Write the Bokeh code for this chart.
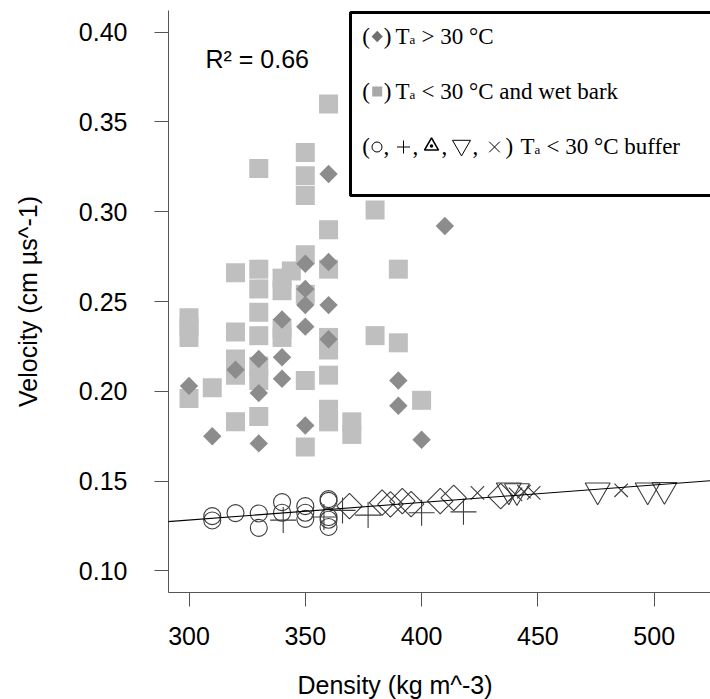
import math
from bokeh.plotting import figure
from bokeh.models import (Range1d, FixedTicker, Label, BoxAnnotation, Slope,
                          NumeralTickFormatter, Title)
from bokeh.embed import file_html
from bokeh.resources import INLINE

# ---------------- data ----------------
# (square) Ta < 30 C and wet bark
wet_x = [300, 300, 300, 300, 310,
         320, 320, 320, 320, 320,
         330, 330, 330, 330, 330, 330, 330, 330,
         340, 340, 340, 340, 344,
         350, 350, 350, 350, 350, 350, 350,
         360, 360, 360, 360, 360, 360, 360, 360,
         370, 370, 380, 380, 390, 390, 400]
wet_y = [0.241, 0.236, 0.230, 0.196, 0.202,
         0.266, 0.233, 0.218, 0.209, 0.183,
         0.324, 0.268, 0.257, 0.244, 0.231, 0.214, 0.206, 0.186,
         0.263, 0.256, 0.235, 0.230, 0.267,
         0.333, 0.320, 0.309, 0.276, 0.254, 0.206, 0.169,
         0.360, 0.290, 0.268, 0.230, 0.223, 0.209, 0.190, 0.183,
         0.183, 0.176, 0.301, 0.231, 0.268, 0.227, 0.195]

# (diamond) Ta > 30 C
hot_x = [300, 310, 320, 330, 330, 330, 340, 340, 340,
         350, 350, 350, 350, 350, 360, 360, 360, 360,
         390, 390, 400, 410]
hot_y = [0.203, 0.175, 0.212, 0.218, 0.199, 0.171, 0.240, 0.219, 0.207,
         0.271, 0.257, 0.248, 0.236, 0.181, 0.321, 0.272, 0.248, 0.229,
         0.206, 0.192, 0.173, 0.292]

# Ta < 30 C buffer
buf_circle_x = [310, 310, 320, 330, 330, 340, 340, 350, 350, 350, 360, 360, 360, 360, 360]
buf_circle_y = [0.1305, 0.1281, 0.1322, 0.1320, 0.1240, 0.1383, 0.1324, 0.1361, 0.1324,
                0.1290, 0.1400, 0.1390, 0.1300, 0.1285, 0.1245]
buf_plus_x = [340.5, 358, 366, 377, 400, 418]
buf_plus_y = [0.1283, 0.1300, 0.1337, 0.1311, 0.1324, 0.1329]
buf_diamond_x = [369, 383, 386.6, 391.7, 395.5, 408, 413.8, 434]
buf_diamond_y = [0.1361, 0.1380, 0.1371, 0.1389, 0.1372, 0.1389, 0.1407, 0.1417]
buf_tri_x = [437.5, 441, 475.7, 497.2, 504.4]
buf_tri_y = [0.1449, 0.1445, 0.1449, 0.1449, 0.1452]
buf_cross_x = [424, 440.4, 444, 448.2, 485.8]
buf_cross_y = [0.1435, 0.1426, 0.1441, 0.1435, 0.1449]

fit_slope = 9.78e-5
fit_intercept = 0.0990
r2_text = "R² = 0.66"

x_ticks = [300, 350, 400, 450, 500]
y_ticks = [0.10, 0.15, 0.20, 0.25, 0.30, 0.35, 0.40]
x_title = "Density (kg m^-3)"
y_title = "Velocity (cm µs^-1)"
legend_tails = ["> 30 °C", "< 30 °C and wet bark", "< 30 °C buffer"]

# ---------------- layout ----------------
W, H = 710, 699
FL, FT, FB = 168, 10, 592          # frame left / top / bottom (px)
PXU = 2.326                         # px per density unit
X0 = 300 - (188.5 - FL) / PXU
X1 = X0 + (W - FL) / PXU
Y0, Y1 = 0.088, 0.412


def sx(px):   # pixel x -> data x
    return X0 + (px - FL) / PXU


def sy(py):   # pixel y -> data y
    return Y1 - (py - FT) * (Y1 - Y0) / (FB - FT)


p = figure(width=W, height=H, x_range=Range1d(X0, X1), y_range=Range1d(Y0, Y1),
           output_backend="svg", toolbar_location=None,
           min_border_left=FL, min_border_top=FT, min_border_right=0,
           min_border_bottom=H - FB)
p.xgrid.visible = False
p.ygrid.visible = False
p.outline_line_color = None
p.background_fill_color = "white"
p.border_fill_color = "white"

# data marks
p.scatter(wet_x, wet_y, marker="square", size=19, fill_color="#bfbfbf", line_color=None)
p.scatter(hot_x, hot_y, marker="square", angle=math.pi / 4, size=13,
          fill_color="#8c8c8c", line_color=None)
LC = "#3c3c3c"
p.scatter(buf_circle_x, buf_circle_y, marker="circle", size=17, fill_color=None,
          line_color=LC, line_width=1.1)
p.scatter(buf_plus_x, buf_plus_y, marker="cross", size=26, line_color=LC, line_width=1.1)
p.scatter(buf_diamond_x, buf_diamond_y, marker="square", angle=math.pi / 4, size=18,
          fill_color=None, line_color=LC, line_width=1.1)
p.scatter(buf_tri_x, buf_tri_y, marker="inverted_triangle", size=25, fill_color=None,
          line_color=LC, line_width=1.1)
p.scatter(buf_cross_x, buf_cross_y, marker="x", size=19, line_color=LC, line_width=1.1)

p.add_layout(Slope(gradient=fit_slope, y_intercept=fit_intercept,
                   line_color="black", line_width=1.1))

# R^2 text
p.add_layout(Label(x=sx(205), y=sy(58.5), text=r2_text, text_font="Liberation Sans",
                   text_font_size="25px", text_color="black", text_baseline="middle"))

# legend box
p.add_layout(BoxAnnotation(left=sx(350), right=sx(800), top=sy(12), bottom=sy(195),
                           fill_color=None, fill_alpha=0, line_color="black",
                           line_alpha=1.0, line_width=3))

SERIF = "Liberation Serif"


def txt(px, py, s, size="23px"):
    p.add_layout(Label(x=sx(px), y=sy(py), text=s, text_font=SERIF, text_font_size=size,
                       text_color="black", text_baseline="middle"))


mids = [35.5, 91, 146]   # cap-centre of each legend line (px)
for i, m in enumerate(mids):
    if i < 2:
        txt(361.7, m, "(")
        txt(383.3, m, ")")
        txt(395, m, "T")
        txt(409, m + 3, "a", "13px")
        txt(421, m, legend_tails[i])
    else:
        txt(361.7, m, "(")
        for cx in [383, 412, 441, 472]:
            txt(cx, m, ",")
        txt(505, m, ")")
        txt(520, m, "T")
        txt(534, m + 3, "a", "13px")
        txt(546, m, legend_tails[i])

p.scatter([sx(376.7)], [sy(36.0)], marker="square", angle=math.pi / 4, size=8,
          fill_color="#707070", line_color=None)
p.scatter([sx(376.7)], [sy(91.0)], marker="square", size=10, fill_color="#a8a8a8", line_color=None)
ly = sy(146.5)
p.scatter([sx(376.5)], [ly], marker="circle", size=10, fill_color=None, line_color="black", line_width=1)
p.scatter([sx(403)], [ly], marker="cross", size=13, line_color="black", line_width=1)
p.scatter([sx(431)], [sy(145.5)], marker="triangle_dot", size=14, fill_color=None,
          line_color="black", line_width=1.6)
p.scatter([sx(461)], [sy(145)], marker="inverted_triangle", size=18, fill_color=None,
          line_color="black", line_width=1)
p.scatter([sx(494)], [ly], marker="x", size=15, line_color="black", line_width=1)

# axes
for ax in (p.xaxis[0], p.yaxis[0]):
    ax.major_tick_out = 14
    ax.major_tick_in = 0
    ax.minor_tick_out = 0
    ax.minor_tick_in = 0
    ax.axis_line_color = "#555555"
    ax.major_tick_line_color = "#555555"
    ax.major_label_text_font = "Liberation Sans"
    ax.major_label_text_font_size = "25px"
    ax.major_label_text_color = "black"
    ax.axis_label_text_font = "Liberation Sans"
    ax.axis_label_text_font_style = "normal"
    ax.axis_label_text_color = "black"

p.xaxis.ticker = FixedTicker(ticks=x_ticks)
p.yaxis.ticker = FixedTicker(ticks=y_ticks)
p.yaxis.formatter = NumeralTickFormatter(format="0.00")
p.xaxis.major_label_standoff = 20
p.yaxis.major_label_standoff = 27
p.yaxis.axis_label = y_title
p.yaxis.axis_label_text_font_size = "25px"
p.yaxis.axis_label_standoff = 34

# spacer below the x tick labels (keeps the title low, as in the original)
p.xaxis.axis_label = "\u00a0"
p.xaxis.axis_label_text_font_size = "1px"
p.xaxis.axis_label_standoff = 17

# x-axis title (placed left of frame centre, as in the original)
p.add_layout(Title(text=x_title, align="left", offset=129, standoff=0,
                   text_font="Liberation Sans", text_font_size="25px",
                   text_font_style="normal", text_color="black"), "below")

open("out.html", "w").write(file_html(p, INLINE))
